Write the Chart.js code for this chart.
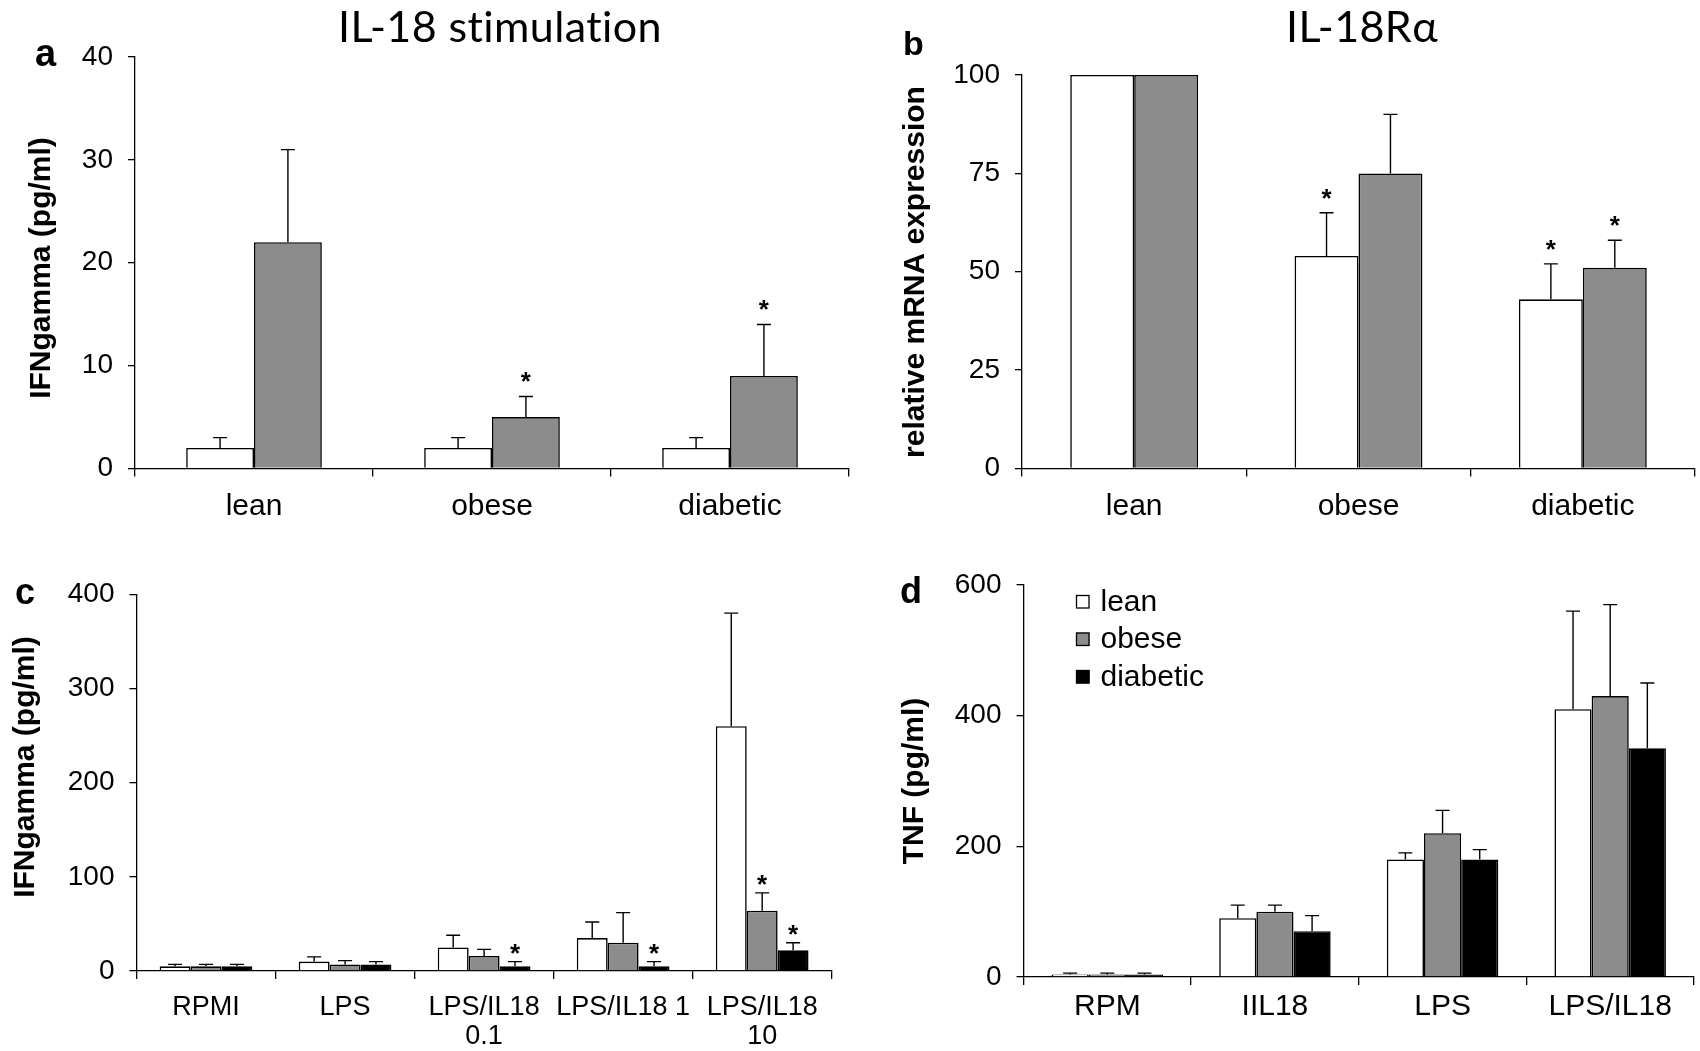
<!DOCTYPE html>
<html>
<head>
<meta charset="utf-8">
<title>IL-18 figure</title>
<script src="https://cdn.jsdelivr.net/npm/chart.js@4.4.0/dist/chart.umd.min.js"></script>
<style>
    body { margin: 0; background: #fff; overflow: hidden; }
    #wrap { position: relative; width: 1700px; height: 1051px; }
    #wrap canvas { position: absolute; left: 0; top: 0; }
</style>
</head>
<body>
<div id="wrap">
    <canvas id="chartA" width="1700" height="1051"></canvas>
    <canvas id="chartB" width="1700" height="1051"></canvas>
    <canvas id="chartC" width="1700" height="1051"></canvas>
    <canvas id="chartD" width="1700" height="1051"></canvas>
</div>
<script>
// --- data ---
const groupsAB = ['lean', 'obese', 'diabetic'];

// a: IFNgamma, IL-18 stimulation (white = unstimulated, grey = IL-18)
const aWhite = [2, 2, 2];
const aWhiteSd = [1, 1, 1];
const aGray = [22, 5, 9];
const aGraySd = [9, 2, 5];
const aGrayStar = [false, true, true];

// b: IL-18R alpha relative mRNA expression
const bWhite = [100, 54, 43];
const bWhiteSd = [0, 11, 9];
const bWhiteStar = [false, true, true];
const bGray = [100, 75, 51];
const bGraySd = [0, 15, 7];
const bGrayStar = [false, false, true];

// c: IFNgamma by stimulus
const cLabels = ['RPMI', 'LPS', ['LPS/IL18', '0.1'], 'LPS/IL18 1', ['LPS/IL18', '10']];
const cLean = [5, 10, 25, 35, 260];
const cLeanSd = [2, 5, 13, 17, 120];
const cObese = [5, 7, 16, 30, 64];
const cObeseSd = [2, 4, 7, 32, 19];
const cObeseStar = [false, false, false, false, true];
const cDiab = [5, 7, 5, 5, 22];
const cDiabSd = [2, 3, 5, 5, 8];
const cDiabStar = [false, false, true, true, true];

// d: TNF by stimulus
const dLabels = ['RPM', 'IIL18', 'LPS', 'LPS/IL18'];
const dLean = [4, 90, 180, 410];
const dLeanSd = [2, 20, 10, 150];
const dObese = [4, 100, 220, 430];
const dObeseSd = [2, 10, 35, 140];
const dDiab = [4, 70, 180, 350];
const dDiabSd = [2, 24, 15, 100];

const yTicksA = { max: 40, step: 10 };
const yTicksB = { max: 100, step: 25 };
const yTicksC = { max: 400, step: 100 };
const yTicksD = { max: 600, step: 200 };

// --- styling ---
const SANS = '"Liberation Sans", Arial, sans-serif';
const TITLE_FONT = '43px Lato, "Open Sans", sans-serif';
const WHITE = '#ffffff';
const GRAY = '#8c8c8c';
const BLACK = '#000000';
Chart.defaults.font.family = SANS;
Chart.defaults.color = '#000';

// error bars (mean + SD) and significance stars, placed with the y scale
const errorBarPlugin = {
    id: 'errorBars',
    afterDatasetsDraw(chart, args, opts) {
        const ctx = chart.ctx;
        const yScale = chart.scales.y;
        ctx.save();
        ctx.strokeStyle = '#000';
        ctx.lineWidth = 1.4;
        chart.data.datasets.forEach((ds, di) => {
            const meta = chart.getDatasetMeta(di);
            meta.data.forEach((bar, i) => {
                const sd = ds.sd ? ds.sd[i] : 0;
                const top = yScale.getPixelForValue(ds.data[i] + sd);
                if (sd > 0) {
                    ctx.beginPath();
                    ctx.moveTo(bar.x, bar.y);
                    ctx.lineTo(bar.x, top);
                    ctx.moveTo(bar.x - opts.cap / 2, top);
                    ctx.lineTo(bar.x + opts.cap / 2, top);
                    ctx.stroke();
                }
                if (ds.stars && ds.stars[i]) {
                    ctx.fillStyle = '#000';
                    ctx.font = 'bold 26px ' + SANS;
                    ctx.textAlign = 'center';
                    ctx.textBaseline = 'alphabetic';
                    ctx.fillText('*', bar.x, top - opts.starGap + 13);
                }
            });
        });
        ctx.restore();
    }
};

// panel letters, titles and rotated axis titles
const panelTextPlugin = {
    id: 'panelText',
    afterDraw(chart, args, opts) {
        const ctx = chart.ctx;
        (opts.items || []).forEach(t => {
            ctx.save();
            ctx.font = t.font;
            if (t.spacing) ctx.letterSpacing = t.spacing;
            ctx.fillStyle = '#000';
            ctx.textAlign = t.align || 'left';
            ctx.textBaseline = t.baseline || 'alphabetic';
            ctx.translate(t.x, t.y);
            if (t.rotate) ctx.rotate(t.rotate);
            ctx.fillText(t.text, 0, 0);
            ctx.restore();
        });
    }
};

// small square legend inside the plot (panel d)
const boxLegendPlugin = {
    id: 'boxLegend',
    afterDraw(chart, args, opts) {
        if (!opts.show) return;
        const ctx = chart.ctx;
        ctx.save();
        ctx.font = opts.font;
        ctx.textAlign = 'left';
        ctx.textBaseline = 'alphabetic';
        ctx.lineWidth = 1.3;
        chart.data.datasets.forEach((ds, i) => {
            const top = opts.y + i * opts.step;
            ctx.fillStyle = ds.backgroundColor;
            ctx.fillRect(opts.x, top, opts.box, opts.box);
            ctx.strokeStyle = '#000';
            ctx.strokeRect(opts.x + 0.5, top + 0.5, opts.box - 1, opts.box - 1);
            ctx.fillStyle = '#000';
            ctx.fillText(ds.label, opts.x + opts.box + 11, top + opts.box + 2);
        });
        ctx.restore();
    }
};

function series(label, data, sd, color, stars) {
    return { label: label, data: data, sd: sd, stars: stars, backgroundColor: color };
}

function buildChart(canvasId, p) {
    const yW = 100;
    const xH = p.xH; // x scale box height; labels are clipped to it
    return new Chart(document.getElementById(canvasId), {
        type: 'bar',
        data: { labels: p.labels, datasets: p.datasets },
        plugins: [errorBarPlugin, panelTextPlugin, boxLegendPlugin],
        options: {
            responsive: false,
            animation: false,
            events: [],
            layout: {
                padding: {
                    left: p.area.left - yW,
                    right: 1700 - p.area.right,
                    top: p.area.top,
                    bottom: 1051 - p.area.bottom - xH
                }
            },
            datasets: {
                bar: {
                    categoryPercentage: p.catPct,
                    barPercentage: 1,
                    borderColor: BLACK,
                    borderWidth: 1.6,
                    borderSkipped: 'bottom'
                }
            },
            plugins: {
                legend: { display: false },
                tooltip: { enabled: false },
                errorBars: { cap: 14, starGap: p.starGap },
                panelText: { items: p.texts },
                boxLegend: p.legend || { show: false }
            },
            scales: {
                x: {
                    ticks: {
                        color: '#000',
                        font: { size: p.xFont, lineHeight: '29px' },
                        padding: p.xPad,
                        autoSkip: false,
                        maxRotation: 0,
                        minRotation: 0
                    },
                    grid: {
                        display: true, drawOnChartArea: false, drawTicks: true,
                        tickLength: 8, offset: true, color: '#000', lineWidth: 1.3
                    },
                    border: { display: true, color: '#000', width: 1.3 },
                    afterFit: s => { s.height = xH; }
                },
                y: {
                    min: 0,
                    max: p.yTicks.max,
                    ticks: { stepSize: p.yTicks.step, color: '#000', font: { size: 28 }, padding: 15 },
                    grid: {
                        display: true, drawOnChartArea: false, drawTicks: true,
                        tickLength: 7, color: '#000', lineWidth: 1.3
                    },
                    border: { display: true, color: '#000', width: 1.3 },
                    afterFit: s => { s.width = yW; }
                }
            }
        }
    });
}

const rot = -Math.PI / 2;

buildChart('chartA', {
    labels: groupsAB,
    datasets: [
        series('control', aWhite, aWhiteSd, WHITE, null),
        series('IL-18', aGray, aGraySd, GRAY, aGrayStar)
    ],
    area: { left: 135, right: 849, top: 57, bottom: 468.5 },
    yTicks: yTicksA, catPct: 0.57, xFont: 30, xPad: 16, xH: 70, starGap: 19,
    texts: [
        { text: 'a', x: 35, y: 66, font: 'bold 38px ' + SANS },
        { text: 'IL-18 stimulation', x: 500, y: 42, align: 'center', font: TITLE_FONT, spacing: '0.4px' },
        { text: 'IFNgamma (pg/ml)', x: 42, y: 268, rotate: rot, align: 'center', baseline: 'middle', font: 'bold 30px ' + SANS }
    ]
});

buildChart('chartB', {
    labels: groupsAB,
    datasets: [
        series('lean', bWhite, bWhiteSd, WHITE, bWhiteStar),
        series('obese', bGray, bGraySd, GRAY, bGrayStar)
    ],
    area: { left: 1022, right: 1695, top: 75, bottom: 468.5 },
    yTicks: yTicksB, catPct: 0.57, xFont: 30, xPad: 16, xH: 70, starGap: 19,
    texts: [
        { text: 'b', x: 903, y: 55, font: 'bold 34px ' + SANS },
        { text: 'IL-18R\u03b1', x: 1362, y: 42, align: 'center', font: TITLE_FONT, spacing: '0.4px' },
        { text: 'relative mRNA expression', x: 916, y: 272, rotate: rot, align: 'center', baseline: 'middle', font: 'bold 30px ' + SANS }
    ]
});

buildChart('chartC', {
    labels: cLabels,
    datasets: [
        series('lean', cLean, cLeanSd, WHITE, null),
        series('obese', cObese, cObeseSd, GRAY, cObeseStar),
        series('diabetic', cDiab, cDiabSd, BLACK, cDiabStar)
    ],
    area: { left: 136.5, right: 831.7, top: 594.3, bottom: 971 },
    yTicks: yTicksC, catPct: 0.667, xFont: 27, xPad: 14, xH: 80, starGap: 13,
    texts: [
        { text: 'c', x: 15, y: 604, font: 'bold 36px ' + SANS },
        { text: 'IFNgamma (pg/ml)', x: 26, y: 767, rotate: rot, align: 'center', baseline: 'middle', font: 'bold 30px ' + SANS }
    ]
});

buildChart('chartD', {
    labels: dLabels,
    datasets: [
        series('lean', dLean, dLeanSd, WHITE, null),
        series('obese', dObese, dObeseSd, GRAY, null),
        series('diabetic', dDiab, dDiabSd, BLACK, null)
    ],
    area: { left: 1023.5, right: 1694, top: 585, bottom: 977 },
    yTicks: yTicksD, catPct: 0.665, xFont: 30, xPad: 7, xH: 70, starGap: 13,
    legend: { show: true, x: 1076, y: 595, step: 37.5, box: 13.5, font: '30px ' + SANS },
    texts: [
        { text: 'd', x: 900, y: 603, font: 'bold 36px ' + SANS },
        { text: 'TNF (pg/ml)', x: 915, y: 781, rotate: rot, align: 'center', baseline: 'middle', font: 'bold 30px ' + SANS }
    ]
});
</script>
</body>
</html>
